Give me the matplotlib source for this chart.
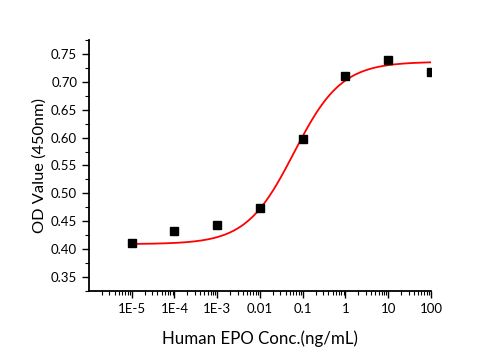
import numpy as np
import matplotlib
matplotlib.use("Agg")
import matplotlib.pyplot as plt
from matplotlib.ticker import FixedLocator, LogLocator, MultipleLocator, NullFormatter

# EPO dose-response measurements
conc = [1e-5, 1e-4, 1e-3, 0.01, 0.1, 1, 10, 100]
od = [0.411, 0.433, 0.444, 0.473, 0.597, 0.711, 0.740, 0.718]
tick_labels = ["1E-5", "1E-4", "1E-3", "0.01", "0.1", "1", "10", "100"]

# four-parameter logistic fit
bottom, top, ec50, hill = 0.409, 0.736, 0.062, 0.78

plt.rcParams["font.family"] = ["Lato", "DejaVu Sans"]

fig = plt.figure(figsize=(5.01, 3.5), dpi=100)
ax = fig.add_axes([0.1776, 0.1686, 0.6826, 0.7171])

xs = np.logspace(-5, 2, 300)
fit = bottom + (top - bottom) / (1 + (ec50 / xs) ** hill)
ax.plot(xs, fit, color="red", lw=1.3, zorder=2)
ax.plot(conc, od, "s", color="black", ms=5.5, zorder=3)

ax.set_xscale("log")
ax.set_xlim(1e-6, 100)
ax.set_ylim(0.325, 0.775)

ax.xaxis.set_major_locator(FixedLocator(conc))
ax.set_xticklabels(tick_labels)
ax.xaxis.set_minor_locator(LogLocator(base=10, subs=np.arange(2, 10), numticks=20))
ax.xaxis.set_minor_formatter(NullFormatter())
ax.yaxis.set_major_locator(MultipleLocator(0.05))
ax.yaxis.set_minor_locator(MultipleLocator(0.025))
ax.yaxis.set_major_formatter(matplotlib.ticker.FormatStrFormatter("%.2f"))

for s in ["top", "right"]:
    ax.spines[s].set_visible(False)
for s in ["left", "bottom"]:
    ax.spines[s].set_linewidth(1.3)

ax.tick_params(which="major", length=5, width=1, labelsize=9.5, direction="out")
ax.tick_params(which="minor", length=3, width=0.8, direction="out")

ax.set_xlabel("Human EPO Conc.(ng/mL)", fontsize=12.2, labelpad=11)
ax.set_ylabel("OD Value (450nm)", fontsize=11.8, labelpad=3)

fig.savefig("out.png", dpi=100)
